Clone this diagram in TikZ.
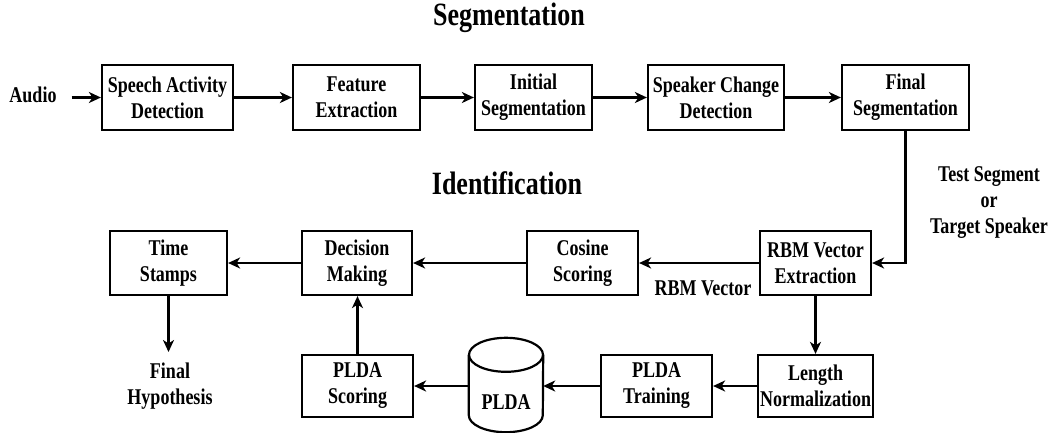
\documentclass[tikz,border=0pt]{standalone}
\usepackage{fontspec}
\setmainfont{Liberation Serif}[FakeStretch=0.80]
\usetikzlibrary{arrows.meta}
\begin{document}
\begin{tikzpicture}[x=1pt,y=1pt,
  every node/.style={font=\bfseries\fontsize{22.5}{26}\selectfont, align=center, inner sep=0pt},
  box/.style={draw, line width=2.2pt, minimum height=64pt},
  flow/.style={line width=2.2pt, -{Stealth[length=12pt,width=11pt,inset=3.5pt]}},
  title/.style={font=\bfseries\fontsize{32.5}{38}\selectfont},
  lw/.style={line width=2.2pt}]
\useasboundingbox (0,0) rectangle (1052,-432);

% section titles
\node[title] (segt) at (509,-18) {Segmentation};
\node[title] (idt) at (507,-183) {Identification};

% segmentation chain
\node (audio) at (33,-95) {Audio};
\node[box, minimum width=131pt, minimum height=65pt] (sad) at (167.5,-97.5) {Speech Activity\\Detection};
\node[box, minimum width=127pt, minimum height=65pt] (fe)  at (356.5,-97.5) {Feature\\Extraction};
\node[box, minimum width=117pt, minimum height=65pt] (is)  at (533.5,-97.5) {Initial\\Segmentation};
\node[box, minimum width=136pt, minimum height=65pt] (scd) at (716,-97.5) {Speaker Change\\Detection};
\node[box, minimum width=127pt, minimum height=65pt] (fs)  at (905.5,-97.5) {Final\\Segmentation};

% identification chain
\node[box, minimum width=117pt] (ts)  at (168.5,-263) {Time\\Stamps};
\node[box, minimum width=110pt] (dm)  at (357,-263) {Decision\\Making};
\node[box, minimum width=111pt] (cs)  at (582.5,-263) {Cosine\\Scoring};
\node[box, minimum width=111pt] (rbm) at (815.5,-263) {RBM Vector\\Extraction};

\node[box, minimum width=111pt, minimum height=62pt] (ps) at (357.5,-386) {PLDA\\Scoring};
\node[box, minimum width=111pt, minimum height=62pt] (pt) at (656.5,-386) {PLDA\\Training};
\node[box, minimum width=115pt, minimum height=62pt] (ln) at (815.5,-386) {Length\\Normalization};

% PLDA model store (cylinder)
\node[minimum width=74pt, minimum height=94pt] (db) at (506,-385) {};
\draw[lw, fill=white] ([yshift=-17pt]db.north west) -- ([yshift=17pt]db.south west)
  arc[start angle=180, end angle=360, x radius=37pt, y radius=17pt]
  -- ([yshift=-17pt]db.north east);
\draw[lw] ([yshift=-17pt]db.north) ellipse [x radius=37pt, y radius=17pt];
\node (dbl) at ([yshift=-17pt]db.center) {PLDA};

% free labels
\node (tsl) at (989,-203) {Test Segment\\or\\Target Speaker};
\node (rbmv) at (703,-288) {RBM Vector};
\node (fh) at (170,-386) {Final\\Hypothesis};
\coordinate (fhin) at (168.5,-352);

% connectors
\draw[flow, shorten <=15pt] (audio.east |- sad.west) -- (sad.west);
\draw[flow] (sad) -- (fe);
\draw[flow] (fe) -- (is);
\draw[flow] (is) -- (scd);
\draw[flow] (scd) -- (fs);
\draw[flow] (fs.south) |- (rbm.east);
\draw[flow] (rbm) -- (cs);
\draw[flow] (cs) -- (dm);
\draw[flow] (dm) -- (ts);
\draw[flow] (ts.south) -- (fhin);
\draw[flow] (rbm) -- (ln);
\draw[flow] (ln) -- (pt);
\draw[flow] (pt.west) -- (pt.west -| db.east);
\draw[flow] (db.west |- ps.east) -- (ps.east);
\draw[flow] (ps.north) -- (ps.north |- dm.south);
\end{tikzpicture}
\end{document}
